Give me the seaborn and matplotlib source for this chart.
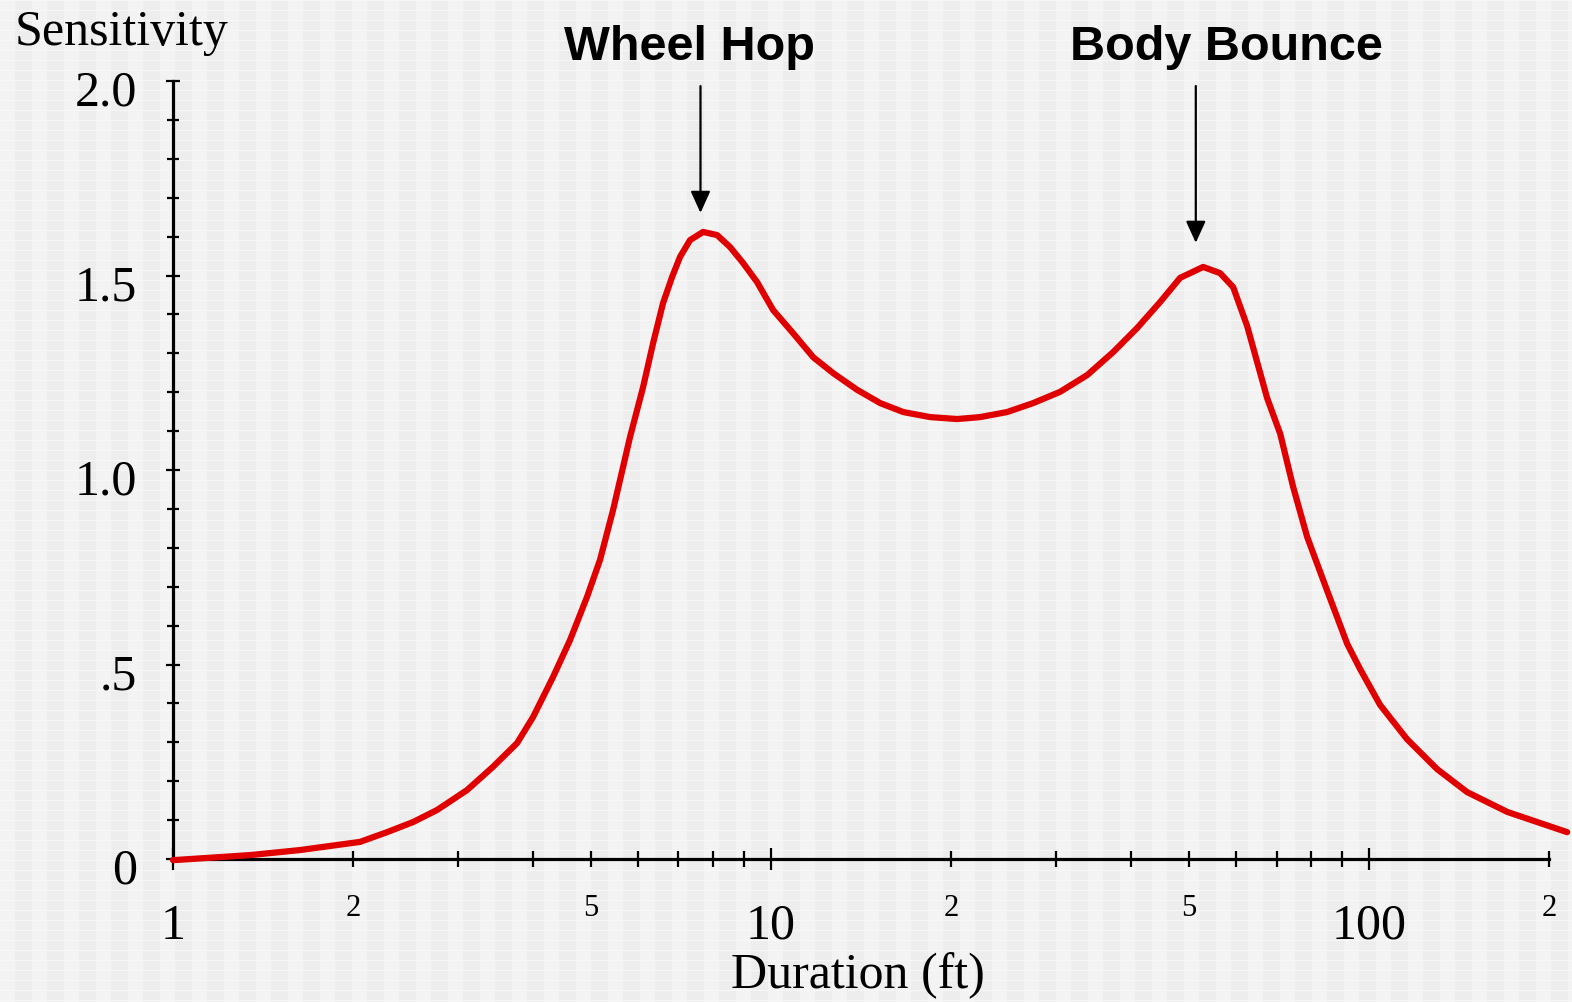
import numpy as np
import pandas as pd
import matplotlib.pyplot as plt
import matplotlib.ticker as mticker
import matplotlib.transforms as mtransforms
import seaborn as sns

# curve (duration in ft, sensitivity)
duration = [1.0, 1.345, 1.631, 2.055, 2.28, 2.52, 2.764, 3.101, 3.428, 3.761,
            4.0, 4.32, 4.612, 4.924, 5.176, 5.442, 5.81, 6.109, 6.349, 6.597,
            6.83, 7.044, 7.32, 7.697, 8.123, 8.54, 8.979, 9.475, 10.08, 10.88,
            11.76, 12.7, 13.93, 15.22, 16.63, 18.45, 20.47, 22.36, 24.81,
            27.43, 30.43, 33.77, 37.32, 40.93, 44.73, 48.3, 52.78, 56.34,
            59.24, 62.52, 67.51, 71.0, 74.64, 78.76, 85.1, 91.89, 96.59, 104.3,
            115.7, 129.9, 145.8, 170.2, 214.3]
sensitivity = [-0.003, 0.010, 0.023, 0.044, 0.069, 0.095, 0.126, 0.177, 0.237,
               0.298, 0.365, 0.468, 0.563, 0.674, 0.769, 0.897, 1.085, 1.213,
               1.326, 1.429, 1.496, 1.548, 1.591, 1.612, 1.604, 1.573, 1.532,
               1.483, 1.411, 1.352, 1.29, 1.249, 1.206, 1.172, 1.149, 1.136,
               1.131, 1.136, 1.149, 1.172, 1.201, 1.244, 1.303, 1.365, 1.432,
               1.494, 1.522, 1.506, 1.47, 1.37, 1.185, 1.093, 0.956, 0.828,
               0.689, 0.553, 0.488, 0.396, 0.308, 0.231, 0.172, 0.121, 0.069]

peak_names = ["Wheel Hop", "Body Bounce"]
peak_x = [7.62, 51.3]
peak_tip = [1.661, 1.584]

y_major = [0, 0.5, 1.0, 1.5, 2.0]
y_major_labels = ["0", ".5", "1.0", "1.5", "2.0"]
x_major = [1, 10, 100]
x_major_labels = ["1", "10", "100"]
x_minor = [2, 3, 4, 5, 6, 7, 8, 9, 20, 30, 40, 50, 60, 70, 80, 90, 200]
x_minor_labels = ["2", "", "", "5", "", "", "", "", "2", "", "", "5", "", "", "", "", "2"]

df = pd.DataFrame({"duration": duration, "sensitivity": sensitivity})

sns.set_theme(style="white")
plt.rcParams["font.family"] = ["Liberation Serif", "DejaVu Serif"]
plt.rcParams["text.color"] = "black"

W, H = 1572, 1002
fig = plt.figure(figsize=(W / 100, H / 100), dpi=100)
fig.patch.set_facecolor("#efefef")

# textured grey background (vertical stripes + thin light rows)
bg = np.full((H, W, 3), 0.933)
cols = np.arange(W) % 32 < 15
bg[:, cols, :] = 0.953
bg[np.arange(H) % 10 == 0, :, :] = 0.972
fig.figimage(bg, 0, 0, zorder=-10)

# axes: x=1 at px 173, x=215 at px 1568; y=0 at px 859, y=2 at px 81
ax = fig.add_axes([173 / W, 1 - 859 / H, (1568 - 173) / W, (859 - 81) / H])
ax.patch.set_alpha(0)

sns.lineplot(data=df, x="duration", y="sensitivity", ax=ax, color="#e00000",
             linewidth=4.5, clip_on=False, zorder=3,
             solid_joinstyle="round", solid_capstyle="round")

ax.set_xscale("log")
ax.set_xlim(1, 215)
ax.set_ylim(0, 2.0)

for s in ["top", "right"]:
    ax.spines[s].set_visible(False)
for s in ["left", "bottom"]:
    ax.spines[s].set_linewidth(2.3)
    ax.spines[s].set_color("black")
ax.spines["bottom"].set_bounds(1, 200)
ax.spines["left"].set_bounds(0, 2.0)

ax.xaxis.set_major_locator(mticker.FixedLocator(x_major))
ax.xaxis.set_major_formatter(mticker.FixedFormatter(x_major_labels))
ax.xaxis.set_minor_locator(mticker.FixedLocator(x_minor))
ax.xaxis.set_minor_formatter(mticker.FixedFormatter(x_minor_labels))
ax.yaxis.set_major_locator(mticker.FixedLocator(y_major))
ax.yaxis.set_major_formatter(mticker.FixedFormatter(y_major_labels))
ax.yaxis.set_minor_locator(mticker.MultipleLocator(0.1))

ax.tick_params(axis="x", which="major", direction="inout", length=16, width=1.6,
               labelsize=36, pad=24, colors="black", bottom=True)
ax.tick_params(axis="x", which="minor", direction="inout", length=12, width=1.6,
               labelsize=22, pad=19, colors="black", bottom=True)
ax.tick_params(axis="y", which="major", direction="inout", length=10, width=1.6,
               labelsize=36, pad=21, colors="black", left=True)
ax.tick_params(axis="y", which="minor", direction="inout", length=9, width=1.6,
               colors="black", left=True)
ax.set_xlabel("")
ax.set_ylabel("")

# y labels sit a little below their ticks in the original
shift = mtransforms.ScaledTranslation(0, -7 / 100, fig.dpi_scale_trans)
for lab in ax.get_yticklabels():
    lab.set_transform(lab.get_transform() + shift)

fig.text(15 / W, 1 - 45 / H, "Sensitivity", fontsize=36, va="baseline", ha="left")
fig.text(858 / W, 1 - 988 / H, "Duration (ft)", fontsize=36, va="baseline", ha="center")

text_x = [690, 1226]
for name, px, tip, tx in zip(peak_names, peak_x, peak_tip, text_x):
    fig.text(tx / W, 1 - 60 / H, name, fontsize=35, fontweight="bold",
             family=["Liberation Sans", "DejaVu Sans"], va="baseline", ha="center")
    ax.annotate("", xy=(px, tip), xytext=(px, 1.987), annotation_clip=False,
                arrowprops=dict(arrowstyle="-|>,head_length=1.1,head_width=0.5",
                                color="black", lw=1.6, shrinkA=0, shrinkB=0))

fig.savefig("out.png", dpi=100, facecolor=fig.get_facecolor())
